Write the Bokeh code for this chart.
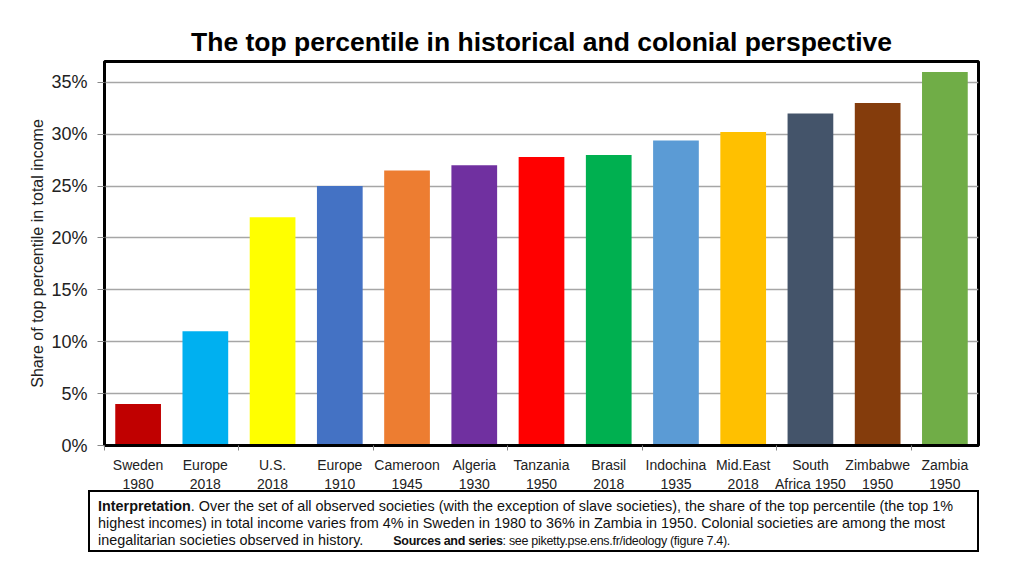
from bokeh.plotting import figure
from bokeh.models import Range1d, FixedTicker, PrintfTickFormatter, Div
from bokeh.layouts import column
from bokeh.embed import file_html
from bokeh.resources import INLINE

categories = ["Sweden\n1980", "Europe\n2018", "U.S.\n2018", "Europe\n1910", "Cameroon\n1945",
              "Algeria\n1930", "Tanzania\n1950", "Brasil\n2018", "Indochina\n1935",
              "Mid.East\n2018", "South\nAfrica 1950", "Zimbabwe\n1950", "Zambia\n1950"]
values = [4.0, 11.0, 22.0, 25.0, 26.5, 27.0, 27.8, 28.0, 29.4, 30.2, 32.0, 33.0, 36.0]
colors = ["#c00000", "#00b0f0", "#ffff00", "#4472c4", "#ed7d31", "#7030a0", "#ff0000",
          "#00b050", "#5b9bd5", "#ffc000", "#44546a", "#843c0c", "#70ad47"]
y_ticks = [0, 5, 10, 15, 20, 25, 30, 35]

FONT = "Liberation Sans"
n = len(categories)
centers = [i + 0.5 for i in range(n)]

p = figure(width=1000, height=475, output_backend="svg", toolbar_location=None,
           x_range=Range1d(0, n), y_range=Range1d(0, 37),
           min_border_left=104, min_border_right=22, min_border_top=4, min_border_bottom=2)
p.margin = (19, 0, 0, 0)

p.title.text = "The top percentile in historical and colonial perspective"
p.title.align = "center"
p.title.text_font = FONT
p.title.text_font_size = "26.5px"
p.title.text_font_style = "bold"
p.title.text_color = "#000000"

p.vbar(x=centers, top=values, width=0.68, bottom=0, fill_color=colors, line_color=None)

p.outline_line_color = "black"
p.outline_line_width = 3

p.xgrid.grid_line_color = None
p.ygrid.grid_line_color = "#a6a6a6"
p.ygrid.grid_line_width = 1.5
p.ygrid.ticker = FixedTicker(ticks=y_ticks)

yax = p.yaxis[0]
yax.ticker = FixedTicker(ticks=y_ticks)
yax.formatter = PrintfTickFormatter(format="%d%%")
yax.axis_label = "Share of top percentile in total income"
yax.axis_label_text_font = FONT
yax.axis_label_text_font_size = "16px"
yax.axis_label_text_font_style = "normal"
yax.axis_label_text_color = "#222222"
yax.major_label_text_font = FONT
yax.major_label_text_font_size = "18px"
yax.major_label_text_color = "#222222"
yax.axis_line_color = "black"
yax.axis_line_width = 2
yax.major_tick_in = 0
yax.major_tick_out = 7
yax.major_tick_line_color = "#888888"
yax.minor_tick_line_color = None
yax.major_label_standoff = 10
yax.axis_label_standoff = 2

xax = p.xaxis[0]
xax.ticker = FixedTicker(ticks=centers, minor_ticks=list(range(0, n + 1, 2)))
xax.major_label_overrides = {c: lab for c, lab in zip(centers, categories)}
xax.major_label_text_font = FONT
xax.major_label_text_font_size = "14px"
xax.major_label_text_color = "#222222"
xax.major_tick_in = 0
xax.major_tick_out = 0
xax.minor_tick_in = 0
xax.minor_tick_out = 5
xax.minor_tick_line_color = "#888888"
xax.axis_line_color = "black"
xax.axis_line_width = 3
xax.major_label_standoff = 6

note = Div(
    text=(
        '<div style="white-space:nowrap;">'
        '<b>Interpretation</b>. Over the set of all observed societies (with the exception of slave societies), '
        'the share of the top percentile (the top 1%<br>'
        'highest incomes) in total income varies from 4% in Sweden in 1980 to 36% in Zambia in 1950. '
        'Colonial societies are among the most<br>'
        'inegalitarian societies observed in history.'
        '<span style="margin-left:30px;font-size:12.5px;letter-spacing:-0.3px;">'
        '<b>Sources and series</b>: see piketty.pse.ens.fr/ideology (figure 7.4).</span>'
        '</div>'
    ),
    width=891, height=62,
    styles={"font-family": FONT, "font-size": "14.4px", "line-height": "17px", "color": "#111111",
            "border": "2px solid black", "padding": "6px 0 0 8px", "box-sizing": "border-box",
            "margin-left": "88px", "margin-top": "-4px", "background": "white"},
)

layout = column(p, note, spacing=0)

open("out.html", "w").write(file_html(layout, INLINE))
